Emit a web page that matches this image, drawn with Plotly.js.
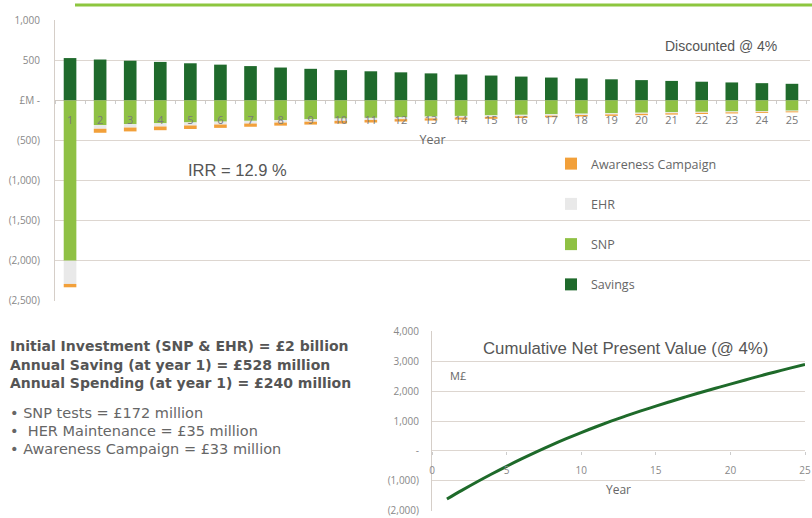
<!DOCTYPE html>
<html><head><meta charset="utf-8">
<script src="https://cdn.plot.ly/plotly-3.0.1.min.js"></script>
<style>html,body{margin:0;padding:0;background:#fff;} #chart{width:812px;height:518px;}</style>
</head><body><div id="chart"></div>
<script>
// ---- Data ----
const years = ['1','2','3','4','5','6','7','8','9','10','11','12','13','14','15','16','17','18','19','20','21','22','23','24','25'];
const savings = [528, 510, 495, 480, 463, 446, 428, 410, 394, 378, 363, 350, 337, 323, 310, 297, 285, 274, 263, 253, 243, 233, 224, 215, 207];
const snp = [-2000, -309, -297, -286, -275, -265, -255, -245, -236, -227, -218, -210, -202, -194, -187, -180, -173, -166, -160, -154, -148, -143, -138, -133, -128];
const ehr = [-290, -45, -42, -40, -38, -36, -34, -32, -30, -28, -26, -24, -22, -20, -19, -18, -17, -16, -15, -14, -13, -12, -11, -10, -9];
const awareness = [-42, -50, -48, -46, -44, -42, -40, -38, -36, -34, -32, -30, -28, -26, -24, -22, -20, -19, -18, -17, -16, -15, -14, -13, -12];
const seriesNames = ['Savings', 'SNP', 'EHR', 'Awareness Campaign'];
const yTickVals = [1000, 500, 0, -500, -1000, -1500, -2000, -2500];
const yTickText = ['1,000', '500', '£M -', '(500)', '(1,000)', '(1,500)', '(2,000)', '(2,500)'];

const npvYears = [1,2,3,4,5,6,7,8,9,10,11,12,13,14,15,16,17,18,19,20,21,22,23,24,25];
const npvValues = [-1610, -1320, -1040, -772, -515, -269, -33, 193, 408, 613, 808, 993, 1169, 1337, 1497, 1654, 1806, 1953, 2095, 2233, 2373, 2509, 2641, 2769, 2893];
const npvTickVals = [4000, 3000, 2000, 1000, 0, -1000, -2000];
const npvTickText = ['4,000', '3,000', '2,000', '1,000', '-', '(1,000)', '(2,000)'];
const npvXTicks = [0, 5, 10, 15, 20, 25];

const summaryBold = ['Initial Investment (SNP &amp; EHR) = £2 billion', 'Annual Saving (at year 1) = £528 million', 'Annual Spending (at year 1) = £240 million'];
const summaryBullets = ['• SNP tests = £172 million', '•  HER Maintenance = £35 million', '• Awareness Campaign = £33 million'];

// ---- Layout helpers ----
const W = 812, H = 518;
const px = x => x / W;
const py = y => 1 - y / H;
const colors = ['#1f6a2c', '#8fc144', '#e9e9e9', '#f2a03a'];
const legendRanks = [4, 3, 2, 1];
const grid = '#ddd6d0';
const sans = 'Liberation Sans, Arial, sans-serif';
const wide = 'DejaVu Sans, Verdana, sans-serif';
const soft = 'Open Sans, Lato, sans-serif';

const seriesValues = [savings, snp, ehr, awareness];
const traces = seriesValues.map((vals, i) => ({
  type: 'bar', x: years, y: vals, name: seriesNames[i], legendgroup: 'g' + i, legendrank: legendRanks[i],
  marker: {color: colors[i], line: {width: 0}}, xaxis: 'x', yaxis: 'y', hoverinfo: 'x+y+name'
}));
traces.push({
  type: 'scatter', mode: 'lines', x: npvYears, y: npvValues, xaxis: 'x2', yaxis: 'y2',
  line: {color: '#1e6a2a', width: 3, shape: 'spline'}, showlegend: false, name: 'NPV'
});

const annotations = [
  {text: 'Discounted @ 4%', xref: 'paper', yref: 'paper', x: px(721), y: py(46), xanchor: 'center', yanchor: 'middle', showarrow: false,
   font: {family: sans, size: 14, color: '#555'}},
  {text: 'IRR = 12.9 %', xref: 'paper', yref: 'paper', x: px(238), y: py(170), xanchor: 'center', yanchor: 'middle', showarrow: false,
   font: {family: sans, size: 16.5, color: '#555'}},
  {text: 'Cumulative Net Present Value (@ 4%)', xref: 'paper', yref: 'paper', x: px(625), y: py(348), xanchor: 'center', yanchor: 'middle', showarrow: false,
   font: {family: sans, size: 16.8, color: '#555'}},
  {text: 'M£', xref: 'paper', yref: 'paper', x: px(448), y: py(375), xanchor: 'left', yanchor: 'middle', showarrow: false,
   font: {family: soft, size: 11, color: '#666'}}
];
summaryBold.forEach((t, i) => annotations.push({
  text: '<b>' + t + '</b>', xref: 'paper', yref: 'paper', x: px(8), y: py(346 + i * 18.5), xanchor: 'left', yanchor: 'middle',
  showarrow: false, font: {family: wide, size: 14, color: '#555'}
}));
summaryBullets.forEach((t, i) => annotations.push({
  text: t, xref: 'paper', yref: 'paper', x: px(8), y: py(413 + i * 18), xanchor: 'left', yanchor: 'middle',
  showarrow: false, font: {family: wide, size: 14.5, color: '#666'}
}));

const layout = {
  width: W, height: H, margin: {l: 0, r: 0, t: 0, b: 0},
  paper_bgcolor: '#fff', plot_bgcolor: 'rgba(0,0,0,0)',
  barmode: 'relative', bargap: 0.58,
  showlegend: true,
  legend: {x: px(551), y: py(149), xanchor: 'left', yanchor: 'top', bgcolor: 'rgba(0,0,0,0)',
    traceorder: 'grouped', tracegroupgap: 21, font: {family: soft, size: 12.5, color: '#666'}},
  xaxis: {type: 'category', domain: [px(55), px(810)], range: [-0.5, 24.6], anchor: 'free', position: py(100.3),
    showgrid: false, zeroline: false, showline: false, ticks: 'outside', tickson: 'boundaries', ticklen: 3,
    tickcolor: '#ccc', ticklabelstandoff: 12, tickfont: {family: soft, size: 11, color: '#7a7a7a'},
    title: {text: 'Year', font: {family: soft, size: 12.5, color: '#666'}, standoff: 8}},
  yaxis: {domain: [py(301), py(20)], range: [-2503, 1003], anchor: 'x', tickvals: yTickVals, ticktext: yTickText,
    showgrid: true, gridcolor: grid, zeroline: true, zerolinecolor: '#cfc8c2', showline: true, linecolor: '#d5cec8',
    ticks: '', ticklabelstandoff: 12, tickfont: {family: soft, size: 10, color: '#888'}},
  xaxis2: {domain: [px(432), px(805)], range: [0, 25], anchor: 'free', position: py(450.5), tickvals: npvXTicks,
    showgrid: false, zeroline: false, showline: false, ticks: 'outside', ticklen: 3, tickcolor: '#ccc',
    ticklabeloverflow: 'allow', ticklabelstandoff: 7, tickfont: {family: soft, size: 10, color: '#888'},
    title: {text: 'Year', font: {family: soft, size: 12, color: '#666'}, standoff: 10}},
  yaxis2: {domain: [py(511), py(331)], range: [-2010, 4010], anchor: 'x2', tickvals: npvTickVals, ticktext: npvTickText,
    showgrid: true, gridcolor: grid, zeroline: true, zerolinecolor: grid, showline: true, linecolor: '#d5cec8',
    ticks: '', ticklabelstandoff: 10, tickfont: {family: soft, size: 10, color: '#888'}},
  shapes: [
    {type: 'line', xref: 'paper', yref: 'paper', x0: px(75), x1: 1, y0: py(5), y1: py(5), line: {color: '#8dc63f', width: 3}}
  ],
  annotations: annotations
};

Plotly.newPlot('chart', traces, layout, {displayModeBar: false, staticPlot: true});
</script>
</body></html>
